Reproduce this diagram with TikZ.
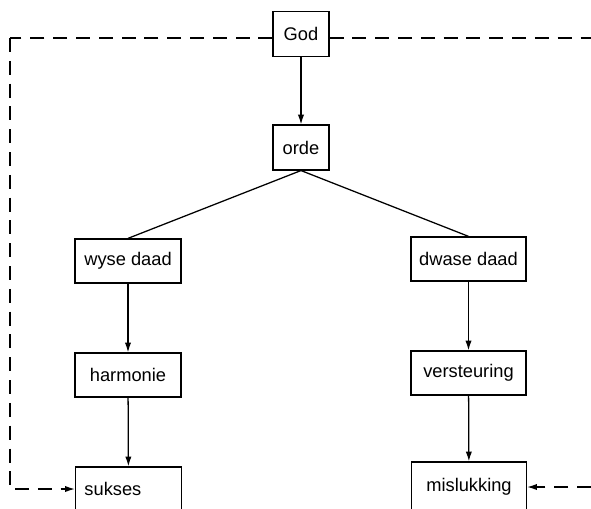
\documentclass[tikz,border=0pt]{standalone}
\usepackage{fontspec}
\setmainfont{Liberation Sans}
\usetikzlibrary{positioning,arrows.meta}
\tikzstyle{box}=[draw,rectangle,inner sep=2pt,minimum width=2.65cm,minimum height=1.1cm,font=\fontsize{13}{15}\selectfont]
\tikzstyle{small}=[box,minimum width=1.4cm,minimum height=1.12cm]
\tikzstyle{wide}=[box,minimum width=2.875cm]
\tikzstyle{flow}=[->]
\tikzstyle{back}=[dash pattern=on 0.35cm off 0.22cm]

\begin{document}
\begin{tikzpicture}[>={Latex[length=7pt,width=4.5pt]}, x=0.025cm, y=-0.025cm, line width=0.9pt]
  \clip (0,0) rectangle (591,508);

  \node[small] (god) at (301,34) {God};
  \node[small] (orde) at (301,147.5) {orde};
  \node[box] (wyse) at (128,261) {wyse daad};
  \node[wide] (dwase) at (468.5,259) {dwase daad};
  \node[box] (harmonie) at (128,375) {harmonie};
  \node[wide] (versteuring) at (468.5,373) {versteuring};
  \node[box, inner xsep=0.225cm, text width=2.2cm, align=left] (sukses) at (128.5,489) {sukses};
  \node[wide, minimum height=1.25cm] (mislukking) at (469,487) {mislukking};

  \coordinate (lc) at (10,38);
  \coordinate (rc) at (591,38);

  \draw[flow] (god) -- (orde);
  \draw (orde.south) -- (wyse.north) (orde.south) -- (dwase.north);
  \draw[flow] (wyse) -- (harmonie);
  \draw[flow] (harmonie) -- (sukses);
  \draw[flow] (dwase) -- (versteuring);
  \draw[flow] (versteuring) -- (mislukking);

  % terugvoer
  \draw[back] (god.west |- lc) -- (lc);
  \draw[back,->] (lc) |- (sukses.west);
  \draw[back] (god.east |- rc) -- (rc);
  \draw[back,->] (mislukking.east -| rc) -- (mislukking.east);
\end{tikzpicture}
\end{document}
